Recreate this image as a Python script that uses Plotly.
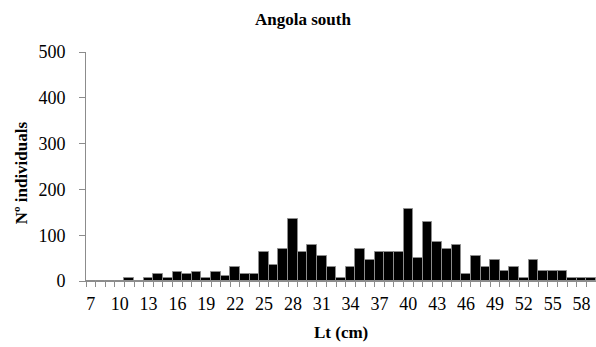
import plotly.graph_objects as go

lengths = list(range(7, 60))
counts = [0, 0, 0, 0, 6, 0, 6, 15, 6, 20, 15, 20, 6, 20, 10, 30, 15, 15,
          63, 36, 70, 136, 64, 79, 55, 30, 6, 30, 70, 45, 64, 64, 64, 157,
          50, 128, 85, 70, 79, 15, 55, 30, 45, 21, 30, 6, 45, 21, 21, 21,
          6, 6, 6]
tick_labels = list(range(7, 60, 3))
y_ticks = [0, 100, 200, 300, 400, 500]

title = "Angola south"
x_title = "Lt (cm)"
y_title = "Nº individuals"

font = "'Times New Roman', 'Liberation Serif', 'DejaVu Serif', serif"
gray = "#8c8c8c"

fig = go.Figure(go.Bar(
    x=lengths, y=counts,
    marker=dict(color="black", line=dict(color=gray, width=1)),
    width=1,
))

fig.update_layout(
    width=596, height=347,
    margin=dict(l=86, r=0, t=52, b=66),
    paper_bgcolor="white", plot_bgcolor="white",
    bargap=0, showlegend=False,
    font=dict(family=font, size=18, color="black"),
    annotations=[
        dict(text="<b>" + title + "</b>", xref="paper", yref="paper",
             x=(303 - 86) / 510, y=1, yshift=33, showarrow=False,
             font=dict(family=font, size=17), xanchor="center", yanchor="middle"),
        dict(text="<b>" + x_title + "</b>", xref="paper", yref="paper",
             x=0.5, y=0, yshift=-51, showarrow=False,
             font=dict(family=font, size=17), xanchor="center", yanchor="middle"),
        dict(text="<b>" + y_title + "</b>", xref="paper", yref="paper",
             x=0, xshift=-65, y=0.47, showarrow=False, textangle=-90,
             font=dict(family=font, size=17), xanchor="center", yanchor="middle"),
    ],
)

fig.update_xaxes(
    range=[6.5, 59.5], tickmode="array", tickvals=tick_labels,
    ticktext=[str(v) for v in tick_labels], ticks="", ticklabelstandoff=6,
    tickfont=dict(family=font, size=18),
    showline=True, linecolor=gray, linewidth=1, showgrid=False, zeroline=False,
    minor=dict(tickmode="array", tickvals=[v - 0.5 for v in lengths] + [lengths[-1] + 0.5],
               ticks="outside", ticklen=5, tickcolor=gray, tickwidth=1, showgrid=False),
    fixedrange=True,
)
fig.update_yaxes(
    range=[0, 500], tickmode="array", tickvals=y_ticks,
    ticks="outside", ticklen=6, tickcolor=gray, tickwidth=1, ticklabelstandoff=10,
    tickfont=dict(family=font, size=18),
    showline=True, linecolor=gray, linewidth=1, showgrid=False, zeroline=False,
    fixedrange=True,
)

fig.write_html("out.html")
